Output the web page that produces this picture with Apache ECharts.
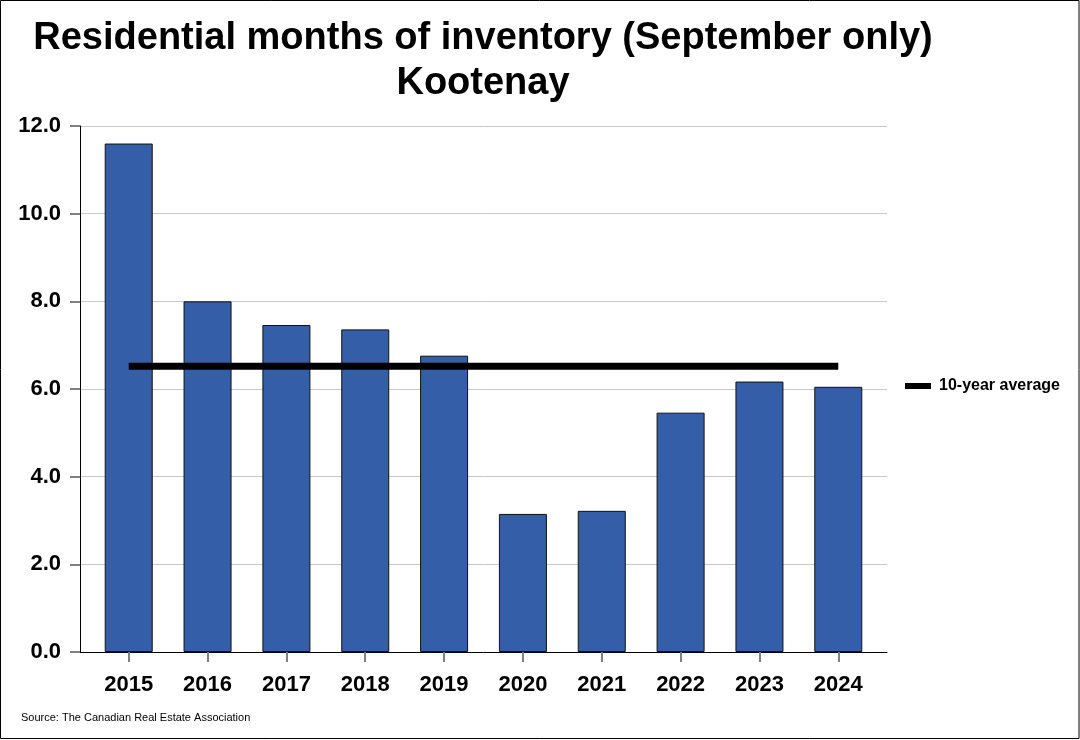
<!DOCTYPE html>
<html>
<head>
<meta charset="utf-8">
<script src="https://cdn.jsdelivr.net/npm/echarts@6/dist/echarts.min.js"></script>
<style>
html,body{margin:0;padding:0;background:#fff;}
#chart{width:1080px;height:740px;}
</style>
</head>
<body>
<div id="chart"></div>
<script>
const titleLines = ['Residential months of inventory (September only)', 'Kootenay'];
const sourceText = 'Source: The Canadian Real Estate Association';
const years = ['2015','2016','2017','2018','2019','2020','2021','2022','2023','2024'];
const monthsOfInventory = [11.6, 8.0, 7.46, 7.36, 6.76, 3.15, 3.22, 5.46, 6.17, 6.05];
const tenYearAverage = [6.52, 6.52, 6.52, 6.52, 6.52, 6.52, 6.52, 6.52, 6.52, 6.52];
const averageName = '10-year average';
const yMin = 0, yMax = 12, yStep = 2;

const FONT = '"Liberation Sans", Arial, sans-serif';
const chart = echarts.init(document.getElementById('chart'), null, {renderer: 'canvas'});

const option = {
  backgroundColor: '#ffffff',
  animation: false,
  grid: [
    {left: 80, right: 193, top: 126, bottom: 88, containLabel: false},
    {left: 89.3, right: 202.3, top: 126, bottom: 88, containLabel: false}
  ],
  legend: {
    data: [{name: averageName, icon: 'rect'}],
    left: 900, top: 373,
    itemWidth: 26, itemHeight: 6, itemGap: 8,
    textStyle: {fontFamily: FONT, fontSize: 16, fontWeight: 'bold', color: '#000', padding: [0,0,0,3]}
  },
  xAxis: [
    {
      gridIndex: 0, type: 'value', min: 0, max: 1,
      axisLine: {show: true, lineStyle: {color: '#000', width: 1}},
      axisTick: {show: false}, axisLabel: {show: false}, splitLine: {show: false}
    },
    {
      gridIndex: 1, type: 'category', data: years,
      axisLine: {show: false},
      axisTick: {show: true, alignWithLabel: true, length: 10, inside: false, lineStyle: {color: '#808080', width: 2}},
      axisLabel: {show: true, margin: 22, fontFamily: FONT, fontSize: 22, fontWeight: 'bold', color: '#000'},
      splitLine: {show: false}
    }
  ],
  yAxis: [
    {
      gridIndex: 0, type: 'value', min: yMin, max: yMax, interval: yStep,
      axisLine: {show: true, lineStyle: {color: '#000', width: 1}},
      axisTick: {show: true, length: 10, lineStyle: {color: '#808080', width: 2}},
      axisLabel: {margin: 19, fontFamily: FONT, fontSize: 22, fontWeight: 'bold', color: '#000',
        formatter: v => v.toFixed(1)},
      splitLine: {show: true, lineStyle: {color: '#c8c8c8', width: 1}}
    },
    {
      gridIndex: 1, type: 'value', min: yMin, max: yMax, interval: yStep, show: false,
      splitLine: {show: false}
    }
  ],
  series: [
    {
      name: 'Months of inventory', type: 'bar', xAxisIndex: 1, yAxisIndex: 1,
      data: monthsOfInventory, barWidth: 48,
      itemStyle: {color: '#345EA8', borderColor: '#111', borderWidth: 1}
    },
    {
      name: averageName, type: 'line', xAxisIndex: 1, yAxisIndex: 1,
      data: tenYearAverage, symbol: 'none', z: 5,
      lineStyle: {color: '#000', width: 7, cap: 'butt'},
      itemStyle: {color: '#000'}
    }
  ],
  graphic: [
    {type: 'rect', shape: {x: 0.5, y: 0.5, width: 1078.5, height: 738}, style: {fill: 'none', stroke: '#000', lineWidth: 1}, z: 100},
    {type: 'text', x: 483, y: 39, style: {text: titleLines[0], fontFamily: FONT, fontSize: 38, fontWeight: 'bold', fill: '#000', textAlign: 'center', textVerticalAlign: 'middle'}},
    {type: 'text', x: 483, y: 84, style: {text: titleLines[1], fontFamily: FONT, fontSize: 38, fontWeight: 'bold', fill: '#000', textAlign: 'center', textVerticalAlign: 'middle'}},
    {type: 'text', x: 21, y: 718, style: {text: sourceText, fontFamily: FONT, fontSize: 11, fill: '#000', textAlign: 'left', textVerticalAlign: 'middle'}}
  ]
};
chart.setOption(option);
</script>
</body>
</html>
